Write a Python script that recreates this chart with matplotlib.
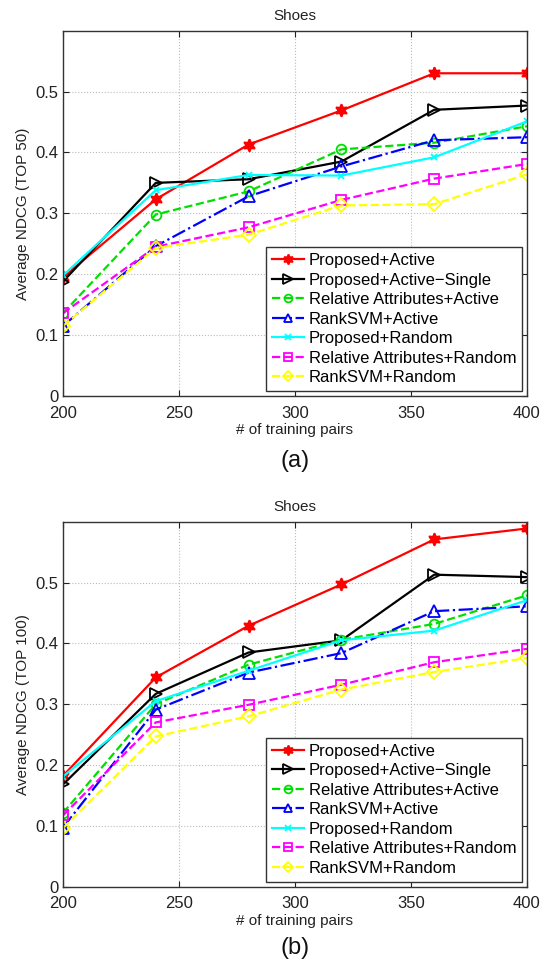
import matplotlib
matplotlib.use("Agg")
import matplotlib.pyplot as plt

plt.rcParams['font.family'] = ['Liberation Sans', 'DejaVu Sans']

# Données
x_pairs = [200, 240, 280, 320, 360, 400]
labels = ['Proposed+Active', 'Proposed+Active\u2212Single', 'Relative Attributes+Active',
          'RankSVM+Active', 'Proposed+Random', 'Relative Attributes+Random', 'RankSVM+Random']

# (a) TOP 50
top50_prop_active = [0.195, 0.323, 0.413, 0.469, 0.530, 0.530]
top50_prop_single = [0.188, 0.350, 0.356, 0.385, 0.470, 0.477]
top50_ra_active = [0.136, 0.298, 0.336, 0.405, 0.416, 0.443]
top50_svm_active = [0.115, 0.246, 0.328, 0.377, 0.420, 0.425]
top50_prop_random = [0.198, 0.338, 0.363, 0.362, 0.392, 0.451]
top50_ra_random = [0.136, 0.245, 0.277, 0.322, 0.357, 0.381]
top50_svm_random = [0.115, 0.243, 0.265, 0.313, 0.315, 0.364]

# (b) TOP 100
top100_prop_active = [0.182, 0.344, 0.429, 0.497, 0.571, 0.589]
top100_prop_single = [0.168, 0.317, 0.385, 0.405, 0.513, 0.509]
top100_ra_active = [0.121, 0.300, 0.365, 0.406, 0.432, 0.479]
top100_svm_active = [0.097, 0.291, 0.352, 0.384, 0.453, 0.461]
top100_prop_random = [0.181, 0.305, 0.355, 0.405, 0.421, 0.471]
top100_ra_random = [0.117, 0.270, 0.299, 0.332, 0.369, 0.391]
top100_svm_random = [0.096, 0.247, 0.280, 0.324, 0.353, 0.376]

styles = [
    dict(color='#ff0000', linestyle='-', marker=(6, 1, 0), markersize=9, mfc='#ff0000'),
    dict(color='black', linestyle='-', marker='>', markersize=9, mfc='none'),
    dict(color='#00e000', linestyle='--', marker='o', markersize=7, mfc='none'),
    dict(color='#0000ff', linestyle='-.', marker='^', markersize=8, mfc='none'),
    dict(color='#00ffff', linestyle='-', marker='x', markersize=5, mfc='none'),
    dict(color='#ff00ff', linestyle='--', marker='s', markersize=7, mfc='none'),
    dict(color='#ffff00', linestyle='--', marker='D', markersize=7, mfc='none'),
]


def draw_panel(ax, series, ylabel, tag, tag_y):
    for ys, lab, st in zip(series, labels, styles):
        ax.plot(x_pairs, ys, label=lab, linewidth=1.6, markeredgewidth=1.3, **st)
    ax.set_xlim(200, 400)
    ax.set_ylim(0, 0.6)
    ax.set_xticks([200, 250, 300, 350, 400])
    ax.set_yticks([0, 0.1, 0.2, 0.3, 0.4, 0.5])
    ax.set_yticklabels(['0', '0.1', '0.2', '0.3', '0.4', '0.5'])
    ax.tick_params(direction='in', top=True, right=True, labelsize=12, colors='#222222', length=4)
    ax.tick_params(axis='x', pad=7)
    ax.tick_params(axis='y', pad=3)
    ax.grid(True, linestyle=':', color='#bbbbbb', linewidth=0.8)
    for sp in ax.spines.values():
        sp.set_color('#333333')
        sp.set_linewidth(1.0)
    ax.set_title('Shoes', fontsize=11, color='#222222', pad=8)
    ax.set_xlabel('# of training pairs', fontsize=11, color='#222222', labelpad=2)
    ax.set_ylabel(ylabel, fontsize=11, color='#222222', labelpad=4)
    leg = ax.legend(loc='lower right', fontsize=12, labelspacing=0.27, handlelength=1.9,
                    handletextpad=0.3, borderpad=0.35, borderaxespad=0.3, fancybox=False,
                    framealpha=1, edgecolor='#333333', markerscale=0.8)
    leg.get_frame().set_linewidth(1.0)
    ax.text(0.5, tag_y, tag, transform=ax.transAxes, ha='center', va='center', fontsize=17, color='#111111')


fig = plt.figure(figsize=(5.52, 9.67), dpi=100)
ax1 = fig.add_axes([0.1141, 0.5905, 0.8406, 0.3778])
ax2 = fig.add_axes([0.1141, 0.0832, 0.8406, 0.3772])

draw_panel(ax1, [top50_prop_active, top50_prop_single, top50_ra_active, top50_svm_active,
                 top50_prop_random, top50_ra_random, top50_svm_random],
           'Average NDCG (TOP 50)', '(a)', -0.178)
draw_panel(ax2, [top100_prop_active, top100_prop_single, top100_ra_active, top100_svm_active,
                 top100_prop_random, top100_ra_random, top100_svm_random],
           'Average NDCG (TOP 100)', '(b)', -0.168)

fig.savefig('out.png', dpi=100)
